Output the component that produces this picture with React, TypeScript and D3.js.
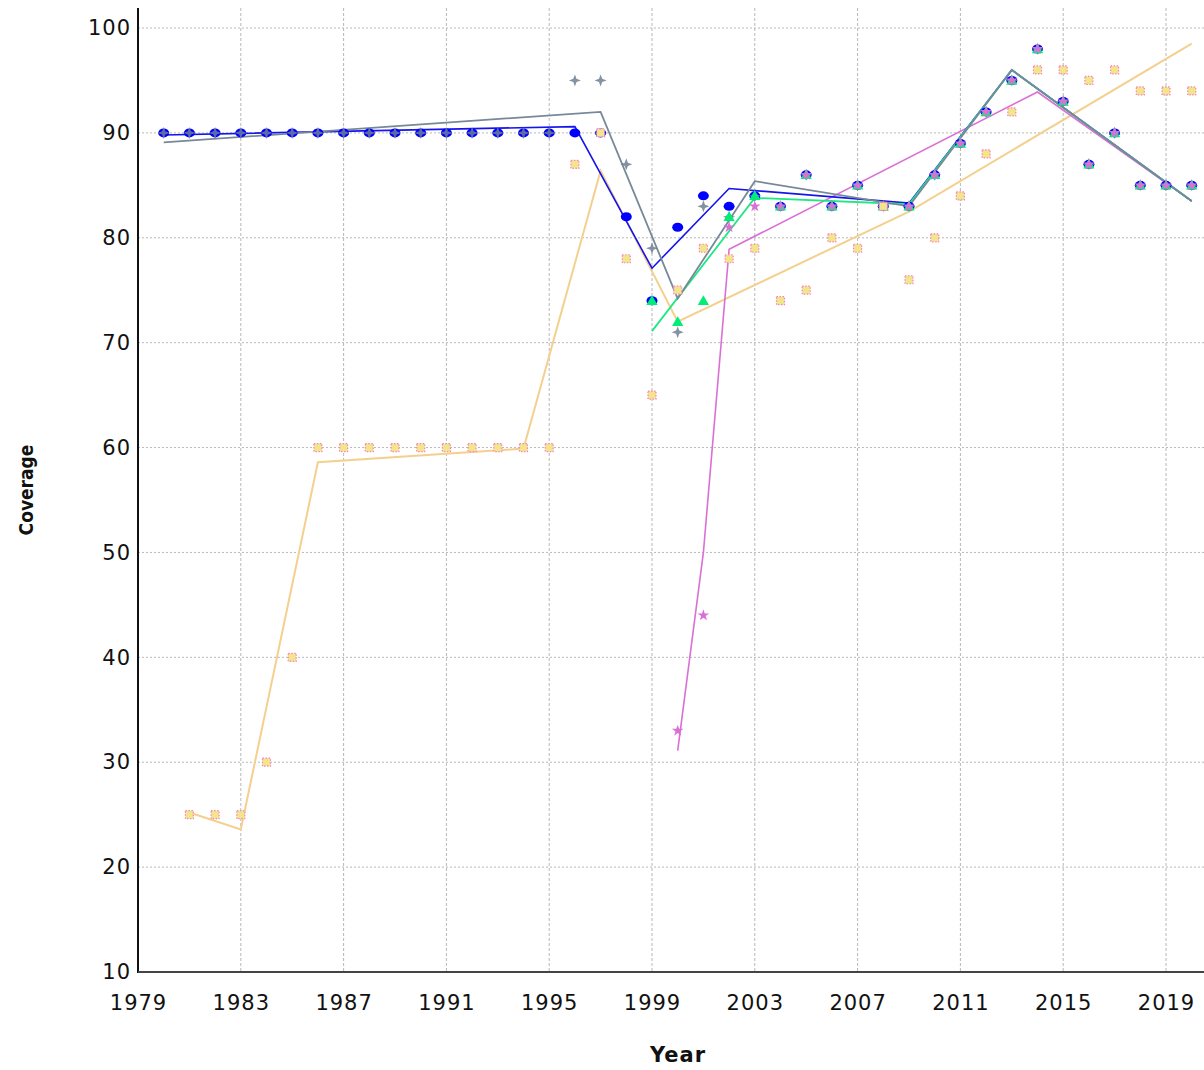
import * as d3 from 'd3';
import React, { useRef, useEffect } from 'react';

const years = [
  1980, 1981, 1982, 1983, 1984, 1985, 1986, 1987, 1988, 1989, 1990, 1991, 1992, 1993,
  1994, 1995, 1996, 1997, 1998, 1999, 2000, 2001, 2002, 2003, 2004, 2005, 2006, 2007,
  2008, 2009, 2010, 2011, 2012, 2013, 2014, 2015, 2016, 2017, 2018, 2019, 2020,
];

// reported coverage, one value per year (null = no report)
const blueValues = [
  90, 90, 90, 90, 90, 90, 90, 90, 90, 90, 90, 90, 90, 90, 90, 90, 90, 90, 82, 74, 81, 84,
  83, 84, 83, 86, 83, 85, 83, 83, 86, 89, 92, 95, 98, 93, 87, 90, 85, 85, 85,
];
const grayValues = [
  90, 90, 90, 90, 90, 90, 90, 90, 90, 90, 90, 90, 90, 90, 90, 90, 95, 95, 87, 79, 71, 83,
  82, 84, 83, 86, 83, 85, 83, 83, 86, 89, 92, 95, 98, 93, 87, 90, 85, 85, 85,
];
const greenValues = [
  null, null, null, null, null, null, null, null, null, null, null, null, null, null, null,
  null, null, null, null, 74, 72, 74, 82, 84, 83, 86, 83, 85, 83, 83, 86, 89, 92, 95, 98,
  93, 87, 90, 85, 85, 85,
];
const orchidValues = [
  null, null, null, null, null, null, null, null, null, null, null, null, null, null, null,
  null, null, null, null, null, 33, 44, 81, 83, 83, 86, 83, 85, 83, 83, 86, 89, 92, 95, 98,
  93, 87, 90, 85, 85, 85,
];
const khakiValues = [
  null, 25, 25, 25, 30, 40, 60, 60, 60, 60, 60, 60, 60, 60, 60, 60, 87, 90, 78, 65, 75, 79,
  78, 79, 74, 75, 80, 79, 83, 76, 80, 84, 88, 92, 96, 96, 95, 96, 94, 94, 94,
];

// estimated trend lines (breakpoints)
const blueFitYears = [1980, 1996, 1999, 2002, 2009, 2013, 2020];
const blueFit = [89.8, 90.6, 77.1, 84.7, 83.3, 96.0, 83.5];
const grayFitYears = [1980, 1997, 2000, 2003, 2009, 2013, 2020];
const grayFit = [89.1, 92.0, 74.2, 85.4, 83.0, 96.0, 83.5];
const greenFitYears = [1999, 2003, 2009, 2013, 2020];
const greenFit = [71.1, 83.8, 83.2, 96.0, 83.5];
const orchidFitYears = [2000, 2001, 2002, 2014, 2020];
const orchidFit = [31.1, 50.0, 78.9, 93.9, 83.5];
const khakiFitYears = [1981, 1983, 1986, 1994, 1997, 2000, 2009, 2020];
const khakiFit = [25.2, 23.6, 58.6, 59.9, 86.4, 72.0, 82.5, 98.5];

const xTicks = [1979, 1983, 1987, 1991, 1995, 1999, 2003, 2007, 2011, 2015, 2019];
const yTicks = [10, 20, 30, 40, 50, 60, 70, 80, 90, 100];

const svgWidth = 1204;
const svgHeight = 1070;
const left = 138;
const bottom = 972;
const font = 'DejaVu Sans, Verdana, sans-serif';

const x = d3.scaleLinear().domain([1979, 2019]).range([left, 1166]);
const y = d3.scaleLinear().domain([10, 100]).range([bottom, 28]);

const sparkle = 'M0,-6L1.6,-1.6L6,0L1.6,1.6L0,6L-1.6,1.6L-6,0L-1.6,-1.6Z';
const triangle = d3.symbol(d3.symbolTriangle, 55)();
const star = d3.symbol(d3.symbolStar, 42)();

function fitPath(xs: number[], vs: number[]) {
  const line = d3
    .line<number>()
    .x((d, i) => x(xs[i]))
    .y((d) => y(d));
  return line(vs) || '';
}

function points(vs: (number | null)[]) {
  return years
    .map((yr, i) => ({ yr, v: vs[i] }))
    .filter((d) => d.v !== null) as { yr: number; v: number }[];
}

function CoverageChart() {
  const xAxisRef = useRef<SVGGElement>(null);
  const yAxisRef = useRef<SVGGElement>(null);

  useEffect(() => {
    const xAxis = d3
      .axisBottom(x)
      .tickValues(xTicks)
      .tickFormat(d3.format('d'))
      .tickSize(0)
      .tickPadding(23);
    const gx = d3.select(xAxisRef.current).call(xAxis);
    gx.select('.domain').remove();
    gx.selectAll('text')
      .attr('font-size', 21)
      .attr('font-family', font)
      .attr('letter-spacing', 1)
      .attr('fill', '#111');

    const yAxis = d3.axisLeft(y).tickValues(yTicks).tickSize(0).tickPadding(7);
    const gy = d3.select(yAxisRef.current).call(yAxis);
    gy.select('.domain').remove();
    gy.selectAll('text')
      .attr('font-size', 21)
      .attr('font-family', font)
      .attr('letter-spacing', 1)
      .attr('fill', '#111');
  }, []);

  return (
    <svg
      width={svgWidth}
      height={svgHeight}
      style={{ position: 'absolute', left: 0, top: 0, background: '#fff' }}
    >
      {/* grid */}
      {xTicks.slice(1).map((t) => (
        <line
          key={'gx' + t}
          x1={x(t)}
          x2={x(t)}
          y1={8}
          y2={bottom}
          stroke="#b8b8b8"
          strokeWidth={1}
          strokeDasharray="3,2"
        />
      ))}
      {yTicks.slice(1).map((t) => (
        <line
          key={'gy' + t}
          x1={left}
          x2={svgWidth}
          y1={y(t)}
          y2={y(t)}
          stroke="#b8b8b8"
          strokeWidth={1}
          strokeDasharray="2,2"
        />
      ))}

      {/* trend lines */}
      <path d={fitPath(khakiFitYears, khakiFit)} fill="none" stroke="#f3d08e" strokeWidth={2} />
      <path d={fitPath(orchidFitYears, orchidFit)} fill="none" stroke="#da70d6" strokeWidth={1.6} />
      <path d={fitPath(blueFitYears, blueFit)} fill="none" stroke="#1414ee" strokeWidth={1.6} />
      <path d={fitPath(greenFitYears, greenFit)} fill="none" stroke="#1ee882" strokeWidth={1.8} />
      <path d={fitPath(grayFitYears, grayFit)} fill="none" stroke="#778899" strokeWidth={1.8} />

      {/* markers */}
      {points(blueValues).map((d) => (
        <ellipse key={'b' + d.yr} cx={x(d.yr)} cy={y(d.v)} rx={5.5} ry={4.5} fill="#0000ff" />
      ))}
      {points(grayValues).map((d) => (
        <path
          key={'g' + d.yr}
          d={sparkle}
          transform={`translate(${x(d.yr)},${y(d.v)})`}
          fill="#6e7f91"
          opacity={0.85}
        />
      ))}
      {points(greenValues).map((d) => (
        <path
          key={'n' + d.yr}
          d={triangle}
          transform={`translate(${x(d.yr)},${y(d.v) + 1})`}
          fill="#00ee76"
        />
      ))}
      {points(orchidValues).map((d) => (
        <path
          key={'o' + d.yr}
          d={star}
          transform={`translate(${x(d.yr)},${y(d.v)})`}
          fill="#da70d6"
        />
      ))}
      {points(khakiValues).map((d) => (
        <rect
          key={'k' + d.yr}
          x={x(d.yr) - 4}
          y={y(d.v) - 4}
          width={8}
          height={8}
          fill="#f0e68c"
          stroke="#ff7fc0"
          strokeWidth={1.2}
          strokeDasharray="1.5,1.5"
        />
      ))}

      {/* axes */}
      <g ref={xAxisRef} transform={`translate(0,${bottom})`} />
      <g ref={yAxisRef} transform={`translate(${left},0)`} />
      <line x1={left} x2={left} y1={8} y2={bottom + 1} stroke="#111" strokeWidth={2} />
      <line x1={left} x2={svgWidth} y1={bottom} y2={bottom} stroke="#444" strokeWidth={2} />

      <text
        x={678}
        y={1062}
        textAnchor="middle"
        fontFamily={font}
        fontWeight="bold"
        fontSize={21}
        letterSpacing={1}
        fill="#111"
      >
        Year
      </text>
      <text
        transform="translate(33,490) rotate(-90)"
        textAnchor="middle"
        fontFamily="DejaVu Sans Condensed, DejaVu Sans, sans-serif"
        fontWeight="bold"
        fontSize={19}
        fill="#111"
      >
        Coverage
      </text>
    </svg>
  );
}

export default function App() {
  return <CoverageChart />;
}
